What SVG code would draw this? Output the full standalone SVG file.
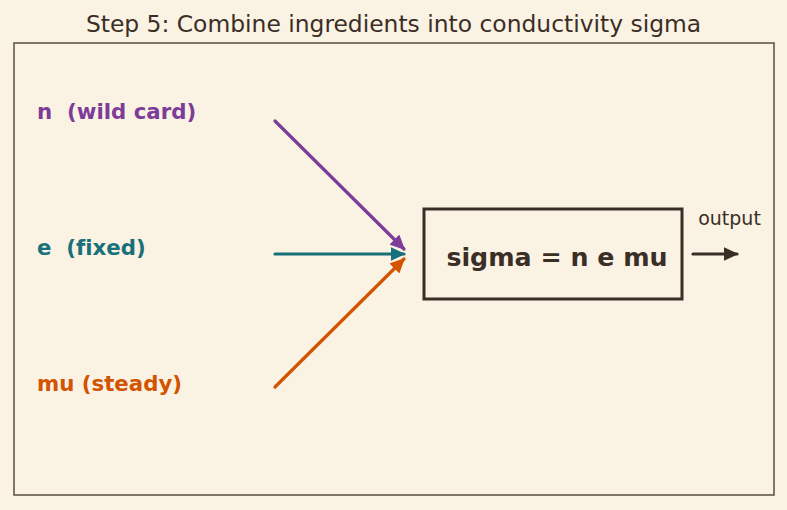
<svg xmlns="http://www.w3.org/2000/svg" width="787" height="510" viewBox="0 0 787 510">
<style>
text{font-family:"DejaVu Sans",sans-serif;white-space:pre;font-variant-ligatures:none}
.lbl{font-size:21.3px;font-weight:bold}
</style>
<defs>
<marker id="ap" viewBox="0 0 10 10" refX="9" refY="5" markerUnits="userSpaceOnUse" markerWidth="15" markerHeight="14" orient="auto" preserveAspectRatio="none"><path d="M0,0 L10,5 L0,10 z" fill="#7d3c98"/></marker>
<marker id="at" viewBox="0 0 10 10" refX="9" refY="5" markerUnits="userSpaceOnUse" markerWidth="15" markerHeight="14" orient="auto" preserveAspectRatio="none"><path d="M0,0 L10,5 L0,10 z" fill="#17707a"/></marker>
<marker id="ao" viewBox="0 0 10 10" refX="9" refY="5" markerUnits="userSpaceOnUse" markerWidth="15" markerHeight="14" orient="auto" preserveAspectRatio="none"><path d="M0,0 L10,5 L0,10 z" fill="#d35400"/></marker>
<marker id="ad" viewBox="0 0 10 10" refX="9" refY="5" markerUnits="userSpaceOnUse" markerWidth="15" markerHeight="14" orient="auto" preserveAspectRatio="none"><path d="M0,0 L10,5 L0,10 z" fill="#3a2e26"/></marker>
</defs>
<rect width="787" height="510" fill="#faf2e3"/>
<text x="393.5" y="32" text-anchor="middle" font-size="23.4" fill="#3a2e26">Step 5: Combine ingredients into conductivity sigma</text>
<rect x="14" y="43" width="760" height="452" fill="none" stroke="#5a4e40" stroke-width="1.5"/>
<g id="n"><text class="lbl" x="37" y="119" fill="#7d3c98" xml:space="preserve">n  (wild card)</text></g>
<g id="e"><text class="lbl" x="37" y="255" fill="#17707a" xml:space="preserve">e  (fixed)</text></g>
<g id="mu"><text class="lbl" x="37" y="391" fill="#d35400">mu (steady)</text></g>
<g id="sigma"><rect x="424" y="209" width="258" height="90" fill="none" stroke="#3a2e26" stroke-width="3"/>
<text x="557" y="266" text-anchor="middle" font-size="25.3" font-weight="bold" fill="#3a2e26">sigma = n e mu</text></g>
<g id="output"><text x="729.5" y="225" text-anchor="middle" font-size="19" fill="#3a2e26">output</text></g>
<g id="connectors" stroke-width="3.2" stroke-linecap="round" fill="none">
<line x1="275" y1="121" x2="404" y2="249" stroke="#7d3c98" marker-end="url(#ap)"/>
<line x1="275" y1="254" x2="404" y2="254" stroke="#17707a" marker-end="url(#at)"/>
<line x1="275" y1="387" x2="404" y2="259" stroke="#d35400" marker-end="url(#ao)"/>
<line x1="693" y1="254" x2="737" y2="254" stroke="#3a2e26" marker-end="url(#ad)"/>
</g>
</svg>
